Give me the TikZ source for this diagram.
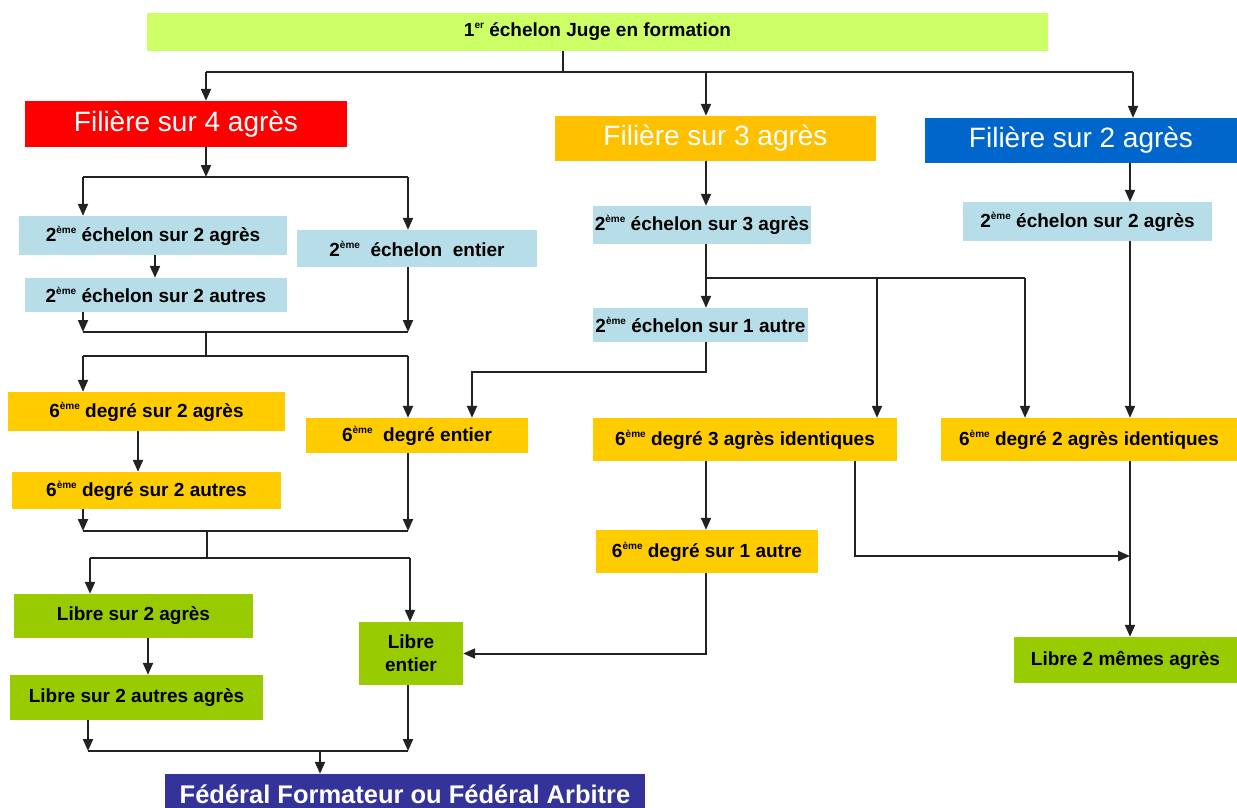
\documentclass[tikz,border=0pt]{standalone}
\usepackage{fontspec}
\setmainfont{Liberation Sans}
\usetikzlibrary{arrows.meta}
\definecolor{cTop}{HTML}{CCFF66}
\definecolor{cRed}{HTML}{FF0000}
\definecolor{cOrange}{HTML}{FFC000}
\definecolor{cBlue}{HTML}{0066CC}
\definecolor{cLight}{HTML}{B7DEE8}
\definecolor{cYellow}{HTML}{FFCC00}
\definecolor{cGreen}{HTML}{99CC00}
\definecolor{cNavy}{HTML}{333399}
\definecolor{cLine}{HTML}{222222}
\newcommand\sx[1]{\raisebox{0.42em}{\fontsize{10}{10}\selectfont #1}}
\begin{document}
\begin{tikzpicture}[x=1pt,y=-1pt,
  box/.style={inner sep=0pt, align=center, text=black, font=\bfseries\fontsize{19}{23}\selectfont},
  big/.style={inner sep=0pt, text=white, font=\fontsize{28}{32}\selectfont},
  line/.style={draw=cLine, line width=2pt},
  arr/.style={line, -{Triangle[width=10pt,length=12pt]}}]
\useasboundingbox (0,0) rectangle (1237,807);
% nodes
\node[box, fill=cTop, minimum width=901pt, minimum height=38pt] (top) at (597.5,32) {1\sx{er} échelon Juge en formation};
\node[big, fill=cRed, minimum width=322pt, minimum height=46pt] (f4) at (186,124) {Filière sur 4 agrès};
\node[big, fill=cOrange, minimum width=321pt, minimum height=45pt] (f3) at (715.5,138.5) {Filière sur 3 agrès};
\node[big, fill=cBlue, minimum width=312pt, minimum height=45pt] (f2) at (1081,140.5) {Filière sur 2 agrès};
\node[box, fill=cLight, minimum width=268pt, minimum height=39pt] (e2a) at (153,235.5) {2\sx{ème} échelon sur 2 agrès};
\node[box, fill=cLight, minimum width=240pt, minimum height=37pt] (e2e) at (417,248.5) {2\sx{ème}\ \ échelon\ \ entier};
\node[box, fill=cLight, minimum width=262pt, minimum height=34pt] (e2b) at (156,295) {2\sx{ème} échelon sur 2 autres};
\node[box, fill=cLight, minimum width=218pt, minimum height=38pt] (e3) at (702,225) {2\sx{ème} échelon sur 3 agrès};
\node[box, fill=cLight, minimum width=215pt, minimum height=34pt] (e1) at (700.5,325) {2\sx{ème} échelon sur 1 autre};
\node[box, fill=cLight, minimum width=249pt, minimum height=39pt] (e2r) at (1087.5,221.5) {2\sx{ème} échelon sur 2 agrès};
\node[box, fill=cYellow, minimum width=277pt, minimum height=39pt] (d6a) at (146.5,411.5) {6\sx{ème} degré sur 2 agrès};
\node[box, fill=cYellow, minimum width=222pt, minimum height=35pt] (d6e) at (417,435.5) {6\sx{ème}\ \ degré entier};
\node[box, fill=cYellow, minimum width=269pt, minimum height=37pt] (d6b) at (146.5,490.5) {6\sx{ème} degré sur 2 autres};
\node[box, fill=cYellow, minimum width=304pt, minimum height=43pt] (d63) at (745,439.5) {6\sx{ème} degré 3 agrès identiques};
\node[box, fill=cYellow, minimum width=296pt, minimum height=43pt] (d62) at (1089,439.5) {6\sx{ème} degré 2 agrès identiques};
\node[box, fill=cYellow, minimum width=222pt, minimum height=43pt] (d61) at (707,551.5) {6\sx{ème} degré sur 1 autre};
\node[box, fill=cGreen, minimum width=239pt, minimum height=44pt] (la) at (133.5,616) {Libre sur 2 agrès};
\node[box, fill=cGreen, minimum width=253pt, minimum height=45pt] (lb) at (136.5,697.5) {Libre sur 2 autres agrès};
\node[box, fill=cGreen, minimum width=104pt, minimum height=63pt] (le) at (411,653.5) {Libre\\entier};
\node[box, fill=cGreen, minimum width=223pt, minimum height=46pt] (lm) at (1125.5,660) {Libre 2 mêmes agrès};
\node[inner sep=0pt, fill=cNavy, text=white, font=\bfseries\fontsize{25.5}{28}\selectfont, minimum width=480pt, minimum height=40pt] (fed) at (405,794) {Fédéral Formateur ou Fédéral Arbitre};
% coordinates
\coordinate (j0) at (563,72);
\coordinate (b0l) at (206,72);
\coordinate (b0r) at (1133,72);
\coordinate (x706) at (706,0);
\coordinate (x206) at (206,0);
\coordinate (j1) at (206,177);
\coordinate (b1l) at (83,177);
\coordinate (b1r) at (408,177);
\coordinate (x155) at (155,0);
\coordinate (j2l) at (83,332);
\coordinate (j2r) at (408,332);
\coordinate (j2m) at (206,332);
\coordinate (j3m) at (206,356);
\coordinate (b3l) at (83,356);
\coordinate (b3r) at (408,356);
\coordinate (k1) at (706,372);
\coordinate (k2) at (472,372);
\coordinate (x138) at (138,0);
\coordinate (j4l) at (83,531);
\coordinate (j4r) at (408,531);
\coordinate (j4m) at (207,531);
\coordinate (j5m) at (207,558);
\coordinate (b5l) at (90,558);
\coordinate (b5r) at (410,558);
\coordinate (x148) at (148,0);
\coordinate (j6l) at (88,751);
\coordinate (j6r) at (408,751);
\coordinate (j6m) at (320,751);
\coordinate (j7) at (706,278);
\coordinate (b7r) at (1025,278);
\coordinate (b7m) at (877,278);
\coordinate (x1130) at (1130,0);
\coordinate (x855) at (855,0);
\coordinate (m1) at (855,556);
\coordinate (m2) at (1130,556);
% connectors
\draw[line] (top.south -| j0) -- (j0);
\draw[line] (b0l) -- (b0r);
\draw[arr] (b0l) -- (b0l |- f4.north);
\draw[arr] (j0 -| x706) -- (f3.north -| x706);
\draw[arr] (b0r) -- (b0r |- f2.north);
\draw[arr] (f4.south -| j1) -- (j1);
\draw[line] (b1l) -- (b1r);
\draw[arr] (b1l) -- (b1l |- e2a.north);
\draw[arr] (b1r) -- (b1r |- e2e.north);
\draw[arr] (e2a.south -| x155) -- (e2b.north -| x155);
\draw[arr] (e2b.south -| j2l) -- (j2l);
\draw[arr] (e2e.south -| j2r) -- (j2r);
\draw[line] (j2l) -- (j2r);
\draw[line] (j2m) -- (j3m);
\draw[line] (b3l) -- (b3r);
\draw[arr] (b3l) -- (b3l |- d6a.north);
\draw[arr] (b3r) -- (b3r |- d6e.north);
\draw[arr] (e1.south -| k1) -- (k1) -- (k2) -- (k2 |- d6e.north);
\draw[arr] (d6a.south -| x138) -- (d6b.north -| x138);
\draw[arr] (d6b.south -| j4l) -- (j4l);
\draw[arr] (d6e.south -| j4r) -- (j4r);
\draw[line] (j4l) -- (j4r);
\draw[line] (j4m) -- (j5m);
\draw[line] (b5l) -- (b5r);
\draw[arr] (b5l) -- (b5l |- la.north);
\draw[arr] (b5r) -- (b5r |- le.north);
\draw[arr] (la.south -| x148) -- (lb.north -| x148);
\draw[arr] (lb.south -| j6l) -- (j6l);
\draw[arr] (le.south -| j6r) -- (j6r);
\draw[line] (j6l) -- (j6r);
\draw[arr] (j6m) -- (j6m |- fed.north);
\draw[arr] (f3.south -| x706) -- (e3.north -| x706);
\draw[line] (e3.south -| j7) -- (j7) -- (b7r);
\draw[arr] (j7) -- (j7 |- e1.north);
\draw[arr] (b7m) -- (b7m |- d63.north);
\draw[arr] (b7r) -- (b7r |- d62.north);
\draw[arr] (f2.south -| x1130) -- (e2r.north -| x1130);
\draw[arr] (e2r.south -| x1130) -- (d62.north -| x1130);
\draw[arr] (d63.south -| x706) -- (d61.north -| x706);
\draw[arr] (d61.south -| x706) |- (le.east);
\draw[arr] (d63.south -| m1) -- (m1) -- (m2);
\draw[arr] (d62.south -| x1130) -- (lm.north -| x1130);
\end{tikzpicture}
\end{document}
